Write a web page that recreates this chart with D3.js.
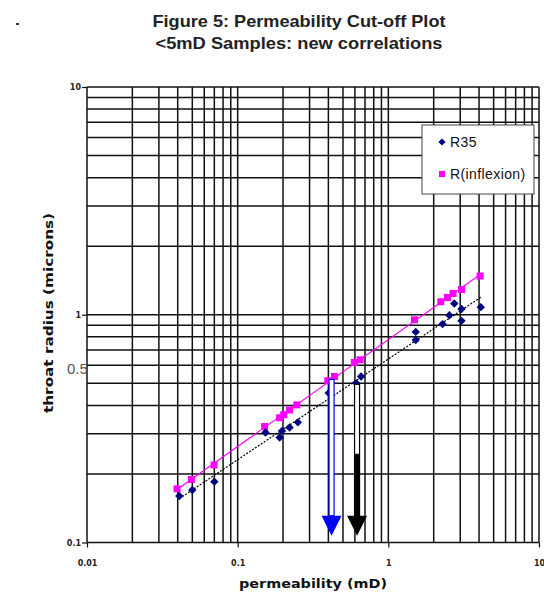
<!DOCTYPE html>
<html><head><meta charset="utf-8">
<script src="https://cdn.jsdelivr.net/npm/d3@7"></script>
<style>body{margin:0;background:#fff}svg{display:block}</style>
</head><body>
<svg id="c" width="544" height="595"></svg>
<script>
// ---- data ----
const titleLines = ["Figure 5: Permeability Cut-off Plot", "<5mD Samples: new correlations"];
const xTicks = [0.01, 0.1, 1, 10];
const xTickLabels = ["0.01", "0.1", "1", "10"];
const yTicks = [0.1, 1, 10];
const yTickLabels = ["0.1", "1", "10"];
const seriesNames = ["R35", "R(inflexion)"];
const r35Perm = [0.041,0.050,0.070,0.153,0.190,0.197,0.221,0.251,0.402,0.611,0.659,1.52,1.52,2.29,2.54,2.74,3.06,3.06,4.11];
const r35Radius = [0.160,0.170,0.185,0.304,0.289,0.309,0.320,0.337,0.453,0.501,0.536,0.841,0.775,0.91,0.995,1.12,1.06,0.94,1.08];
const rInfPerm = [0.0396,0.0493,0.0697,0.151,0.190,0.202,0.221,0.247,0.396,0.439,0.595,0.650,1.49,2.23,2.47,2.69,3.06,4.07];
const rInfRadius = [0.172,0.189,0.219,0.323,0.353,0.364,0.382,0.402,0.513,0.536,0.617,0.634,0.95,1.14,1.19,1.24,1.29,1.48];
// cut-off arrows: permeability, start radius, head-top radius, tip radius
const cutoffPerm = [0.42, 0.62];
const cutoffTop = [0.52, 0.495];
const cutoffHead = [0.131, 0.131];
const cutoffTip = [0.107, 0.107];
const extraLabel = "0.5";

// ---- chart ----
const svg = d3.select("#c");
const x = d3.scaleLog().domain([0.01, 10]).range([87, 539]);
const y = d3.scaleLog().domain([0.1, 10]).range([542.5, 87]);

svg.append("rect").attr("x",16).attr("y",23).attr("width",3).attr("height",2).attr("fill","#333");

svg.selectAll("text.title").data(titleLines).enter().append("text")
  .attr("x", 299).attr("y", (d,i)=> i===0 ? 27 : 49)
  .attr("text-anchor","middle")
  .attr("font-family","Liberation Sans, Arial, sans-serif")
  .attr("font-weight","bold").attr("font-size", 17)
  .attr("textLength", (d,i)=> i===0 ? 293 : 287).attr("lengthAdjust","spacingAndGlyphs")
  .attr("fill","#222")
  .text(d=>d);

// grid
const xGrid = [];
[0.01,0.1,1].forEach(dec => { for (let m=1;m<=9;m++) xGrid.push(dec*m); });
xGrid.push(10);
const yG = [];
[0.1,1].forEach(dec => { for (let m=1;m<=9;m++) yG.push(dec*m); });
yG.push(10);
const g = svg.append("g");
g.selectAll("line.vx").data(xGrid).enter().append("line")
  .attr("x1",d=>x(d)).attr("x2",d=>x(d)).attr("y1",y(10)).attr("y2",y(0.1))
  .attr("stroke","#111").attr("stroke-width",1.5);
g.selectAll("line.hy").data(yG).enter().append("line")
  .attr("y1",d=>y(d)).attr("y2",d=>y(d)).attr("x1",x(0.01)).attr("x2",x(10))
  .attr("stroke","#111").attr("stroke-width",1.5);

// axes
const xAxis = d3.axisBottom(x).tickValues(xTicks).tickSize(5).tickFormat((d,i)=>xTickLabels[i]);
const ax = svg.append("g").attr("transform",`translate(0,${y(0.1)})`).call(xAxis);
ax.select(".domain").remove();
ax.selectAll("line").attr("stroke","#111").attr("stroke-width",1.2);
ax.selectAll("text").attr("font-family","DejaVu Sans, Verdana, sans-serif").attr("font-weight","bold")
  .attr("font-size",8).attr("fill","#222").attr("dy","1.9em");

const yAxis = d3.axisLeft(y).tickValues(yTicks).tickSize(5).tickFormat((d,i)=>yTickLabels[i]);
const ay = svg.append("g").attr("transform",`translate(${x(0.01)},0)`).call(yAxis);
ay.select(".domain").remove();
ay.selectAll("line").attr("stroke","#111").attr("stroke-width",1.2);
ay.selectAll("text").attr("font-family","DejaVu Sans, Verdana, sans-serif").attr("font-weight","bold")
  .attr("font-size",8).attr("fill","#222").attr("x",-6);

svg.append("text").attr("x",67).attr("y",y(0.5)-9)
  .attr("font-family","Liberation Sans, Arial, sans-serif").attr("font-size",15).attr("fill","#555")
  .text(extraLabel);

// axis titles
svg.append("text").attr("x",313).attr("y",588).attr("text-anchor","middle")
  .attr("font-family","DejaVu Sans, Verdana, sans-serif").attr("font-weight","bold").attr("font-size",13)
  .attr("textLength",148).attr("lengthAdjust","spacingAndGlyphs")
  .attr("fill","#111").text("permeability (mD)");
svg.append("text").attr("transform","translate(53,313) rotate(-90)").attr("text-anchor","middle")
  .attr("font-family","DejaVu Sans, Verdana, sans-serif").attr("font-weight","bold").attr("font-size",13)
  .attr("textLength",200).attr("lengthAdjust","spacingAndGlyphs")
  .attr("fill","#111").text("throat radius  (microns)");

// trend lines (power fit in log-log)
function powerFit(xs, ys) {
  const lx = xs.map(Math.log10), ly = ys.map(Math.log10);
  const n = lx.length, mx = d3.mean(lx), my = d3.mean(ly);
  let sxy=0, sxx=0;
  for (let i=0;i<n;i++){ sxy+=(lx[i]-mx)*(ly[i]-my); sxx+=(lx[i]-mx)**2; }
  const b = sxy/sxx, a = my - b*mx;
  return k => Math.pow(10, a + b*Math.log10(k));
}
const f35 = powerFit(r35Perm, r35Radius);
const fInf = powerFit(rInfPerm, rInfRadius);
const xs35 = d3.extent(r35Perm), xsInf = d3.extent(rInfPerm);
svg.append("line").attr("x1",x(xs35[0])).attr("y1",y(f35(xs35[0]))).attr("x2",x(xs35[1])).attr("y2",y(f35(xs35[1])))
  .attr("stroke","#000").attr("stroke-width",1.2).attr("stroke-dasharray","2,1.5");
svg.append("line").attr("x1",x(xsInf[0])).attr("y1",y(fInf(xsInf[0]))).attr("x2",x(xsInf[1])).attr("y2",y(fInf(xsInf[1])))
  .attr("stroke","#ff00ff").attr("stroke-width",1.2);

// markers
const r35 = r35Perm.map((k,i)=>({k, r:r35Radius[i]}));
const rInf = rInfPerm.map((k,i)=>({k, r:rInfRadius[i]}));
svg.selectAll("rect.inf").data(rInf).enter().append("rect")
  .attr("x",d=>x(d.k)-3.5).attr("y",d=>y(d.r)-3.5).attr("width",7).attr("height",7).attr("fill","#ff00ff");
const diamondPath = "M0,-4.2L4.2,0L0,4.2L-4.2,0Z";
svg.selectAll("path.r35").data(r35).enter().append("path")
  .attr("d",diamondPath).attr("transform",d=>`translate(${x(d.k)},${y(d.r)})`).attr("fill","#000080");

// arrows
const arrowColors = ["#0000ff","#000000"];
cutoffPerm.forEach((k,i)=>{
  const cx = x(k), col = arrowColors[i];
  const top = y(cutoffTop[i]), head = y(cutoffHead[i]), tip = y(cutoffTip[i]);
  svg.append("rect").attr("x",cx-2.5).attr("y",top).attr("width",5).attr("height",head-top)
    .attr("fill","#fff").attr("stroke",col).attr("stroke-width",1.2);
  if (i===1) svg.append("rect").attr("x",cx-2).attr("y",head-62).attr("width",4.5).attr("height",62).attr("fill",col);
  svg.append("path").attr("d",`M${cx-10},${head}L${cx+10},${head}L${cx},${tip}Z`).attr("fill",col);
});

// legend
const lg = svg.append("g");
lg.append("rect").attr("x",422).attr("y",125).attr("width",112).attr("height",69)
  .attr("fill","#fff").attr("stroke","#444").attr("stroke-width",1);
lg.append("path").attr("d","M0,-3.6L3.6,0L0,3.6L-3.6,0Z").attr("transform","translate(442,142)").attr("fill","#000080");
lg.append("rect").attr("x",439).attr("y",171).attr("width",6).attr("height",6).attr("fill","#ff00ff");
lg.selectAll("text").data(seriesNames).enter().append("text")
  .attr("x",450).attr("y",(d,i)=> i===0 ? 147 : 179)
  .attr("font-family","Liberation Sans, Arial, sans-serif").attr("font-size",14).attr("letter-spacing",0.4)
  .attr("fill","#111").text(d=>d);
</script>
</body></html>
